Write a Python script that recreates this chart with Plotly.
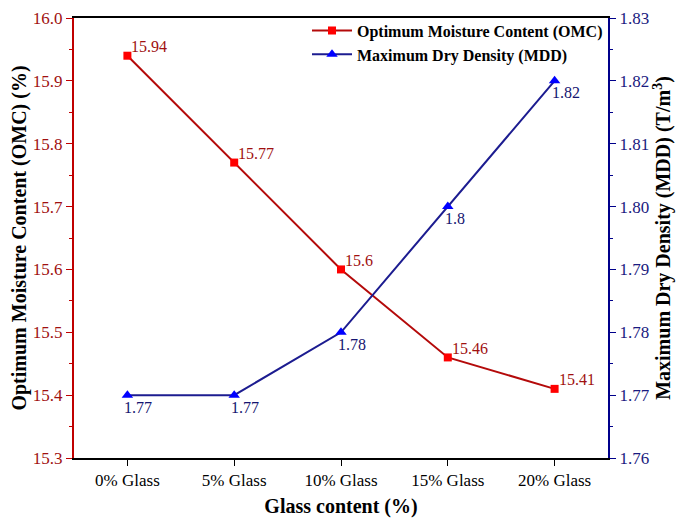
import plotly.graph_objects as go

categories = ["0% Glass", "5% Glass", "10% Glass", "15% Glass", "20% Glass"]
omc = [15.94, 15.77, 15.6, 15.46, 15.41]
mdd = [1.77, 1.77, 1.78, 1.8, 1.82]
omc_labels = ["15.94", "15.77", "15.6", "15.46", "15.41"]
mdd_labels = ["1.77", "1.77", "1.78", "1.8", "1.82"]

FONT = "Liberation Serif, Times New Roman, serif"
RED_LINE = "#b40a0a"
RED_MARK = "#ff0000"
RED_TEXT = "#a01010"
BLUE_LINE = "#1c1c90"
BLUE_MARK = "#0000ff"
BLUE_TEXT = "#141470"

x = list(range(len(categories)))

fig = go.Figure()
fig.add_trace(go.Scatter(
    x=x, y=omc, mode="lines+markers", name="<b>Optimum Moisture Content (OMC)</b>",
    line=dict(color=RED_LINE, width=2),
    marker=dict(symbol="square", size=8, color=RED_MARK),
    yaxis="y",
))
fig.add_trace(go.Scatter(
    x=x, y=mdd, mode="lines+markers", name="<b>Maximum Dry Density (MDD)</b>",
    line=dict(color=BLUE_LINE, width=2),
    marker=dict(symbol="triangle-up", size=10, color=BLUE_MARK),
    yaxis="y2",
))

annotations = []
for xi, yi, t in zip(x, omc, omc_labels):
    annotations.append(dict(x=xi, y=yi, xref="x", yref="y", text=t, showarrow=False,
                            xanchor="left", yanchor="middle", xshift=2, yshift=9,
                            font=dict(family=FONT, size=16, color=RED_TEXT)))
for xi, yi, t in zip(x, mdd, mdd_labels):
    annotations.append(dict(x=xi, y=yi, xref="x", yref="y2", text=t, showarrow=False,
                            xanchor="left", yanchor="middle", xshift=-5, yshift=-12,
                            font=dict(family=FONT, size=16, color=BLUE_TEXT)))

fig.update_layout(
    width=685, height=524,
    margin=dict(l=66, r=85, t=10, b=74, autoexpand=False),
    paper_bgcolor="white", plot_bgcolor="white",
    font=dict(family=FONT, size=16, color="black"),
    showlegend=True,
    annotations=annotations,
    legend=dict(x=1.0, y=1.01, xanchor="right", yanchor="top",
                bgcolor="rgba(0,0,0,0)", font=dict(family=FONT, size=16, color="black"),
                tracegroupgap=0, itemwidth=40),
    xaxis=dict(
        tickmode="array", tickvals=x, ticktext=categories,
        range=[-0.5, 4.5], showgrid=False, zeroline=False,
        showline=True, linecolor="black", linewidth=1.5, mirror=True,
        ticks="outside", ticklen=6, tickcolor="black",
        tickfont=dict(family=FONT, size=17, color="black"),
        title=dict(text="<b>Glass content (%)</b>", font=dict(family=FONT, size=20), standoff=10),
    ),
    yaxis=dict(
        range=[15.3, 16.0], dtick=0.1, tickformat=".1f",
        showgrid=False, zeroline=False,
        showline=True, linecolor="#c00000", linewidth=2,
        ticks="outside", ticklen=6, tickcolor="#c00000",
        ticklabeloverflow="allow",
        minor=dict(ticks="outside", ticklen=3, tickcolor="#c00000", dtick=0.05),
        tickfont=dict(family=FONT, size=17, color="#a01010"),
        title=dict(text="<b>Optimum Moisture Content (OMC) (%)</b>", font=dict(family=FONT, size=20, color="black"), standoff=8),
    ),
    yaxis2=dict(
        range=[1.76, 1.83], dtick=0.01, tickformat=".2f",
        overlaying="y", side="right",
        showgrid=False, zeroline=False,
        showline=True, linecolor="#00008b", linewidth=2,
        ticks="outside", ticklen=6, tickcolor="#00008b",
        ticklabeloverflow="allow",
        minor=dict(ticks="outside", ticklen=3, tickcolor="#00008b", dtick=0.005),
        tickfont=dict(family=FONT, size=17, color="#1a1a80"),
        title=dict(text="<b>Maximum Dry Density (MDD) (T/m<sup>3</sup>)</b>", font=dict(family=FONT, size=20, color="black"), standoff=6),
    ),
)

fig.write_html("out.html")
